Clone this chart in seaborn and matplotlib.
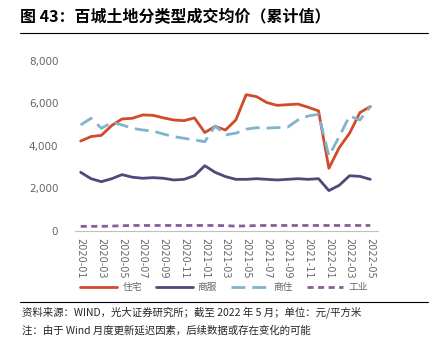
import matplotlib
matplotlib.use("Agg")
import matplotlib.pyplot as plt
import seaborn as sns
import pandas as pd
import numpy as np
from matplotlib.lines import Line2D

months = ["2020-01","2020-02","2020-03","2020-04","2020-05","2020-06","2020-07","2020-08",
          "2020-09","2020-10","2020-11","2020-12","2021-01","2021-02","2021-03","2021-04",
          "2021-05","2021-06","2021-07","2021-08","2021-09","2021-10","2021-11","2021-12",
          "2022-01","2022-02","2022-03","2022-04","2022-05"]
residential = [4230,4440,4500,4960,5270,5300,5460,5440,5320,5220,5190,5320,4630,4920,4750,5220,
               6410,6320,6040,5910,5940,5970,5820,5650,2950,3920,4600,5570,5850]
commercial = [2760,2460,2320,2460,2650,2530,2480,2510,2480,2400,2430,2600,3070,2760,2560,2430,
              2430,2460,2430,2400,2430,2460,2430,2460,1900,2150,2600,2570,2430]
comm_res = [4990,5300,4830,5100,4990,4830,4750,4700,4560,4440,4360,4280,4200,4940,4520,4600,
            4790,4860,4840,4860,4880,5220,5410,5490,3530,4440,5410,5220,5850]
industrial = [220,220,220,230,250,260,260,260,260,260,260,260,260,260,250,230,
              240,255,260,260,260,260,260,260,260,260,260,260,260]

series_names = ["住宅", "商服", "商住", "工业"]
colors = ["#d14b2a", "#4d4a7b", "#7fb4cb", "#8a5c9a"]

sns.set_theme(style="white")
plt.rcParams['font.family'] = ['Noto Sans CJK SC', 'DejaVu Sans']

df = pd.DataFrame({"month": months, "住宅": residential, "商服": commercial,
                   "商住": comm_res, "工业": industrial})
df["idx"] = np.arange(len(months))
long = df.melt(id_vars=["month", "idx"], value_vars=series_names, var_name="类型", value_name="价格")

fig = plt.figure(figsize=(4.36, 3.5), dpi=100)
ax = fig.add_axes([0.172, 0.34, 0.695, 0.486])

sns.lineplot(data=long, x="idx", y="价格", hue="类型", style="类型",
             hue_order=series_names, style_order=series_names,
             palette=colors, dashes={"住宅": "", "商服": "", "商住": (5, 2.5), "工业": (2.2, 1.6)},
             linewidth=2.0, ax=ax, legend=False)

ax.set_xlim(-0.55, 28.75)
ax.set_ylim(0, 8000)
ax.set_yticks([0, 2000, 4000, 6000, 8000])
ax.set_yticklabels(["0", "2,000", "4,000", "6,000", "8,000"], color="#666666", fontsize=7.5,
                   family=['DejaVu Sans'])
ticks = list(range(0, 29, 2))
ax.set_xticks(ticks)
ax.set_xticklabels([months[i] for i in ticks], rotation=-90, color="#666666", fontsize=7,
                   family=['DejaVu Sans'])
ax.set_xlabel("")
ax.set_ylabel("")
for s in ["top", "right", "left"]:
    ax.spines[s].set_visible(False)
ax.spines["bottom"].set_color("#bfbfbf")
ax.spines["bottom"].set_linewidth(0.8)
ax.tick_params(axis="x", length=3, color="#bfbfbf", width=0.8, pad=2)
ax.tick_params(axis="y", length=0, pad=12)
ax.grid(False)

# legend
handles = []
dash_map = {"住宅": "-", "商服": "-", "商住": (0, (5, 2.5)), "工业": (0, (2.2, 1.6))}
for n, c in zip(series_names, colors):
    handles.append(Line2D([0], [0], color=c, lw=2.0, linestyle=dash_map[n]))
fig.legend(handles, series_names, loc="center", bbox_to_anchor=(0.514, 0.18), ncol=4,
           frameon=False, fontsize=7, handlelength=3.8, columnspacing=1.45, handletextpad=0.5,
           labelcolor="#666666")

# title and rules
fig.text(0.046, 0.952, "图 43：百城土地分类型成交均价（累计值）", fontsize=11.5, fontweight="bold",
         va="center", ha="left", color="#000000")
fig.add_artist(Line2D([0.046, 0.982], [0.905, 0.905], color="black", lw=0.8, transform=fig.transFigure))
fig.add_artist(Line2D([0.046, 0.982], [0.138, 0.138], color="black", lw=0.8, transform=fig.transFigure))
fig.text(0.05, 0.107, "资料来源：WIND，光大证券研究所；截至 2022 年 5 月；单位：元/平方米", fontsize=7.5,
         va="center", ha="left")
fig.text(0.05, 0.057, "注：由于 Wind 月度更新延迟因素，后续数据或存在变化的可能", fontsize=7.5,
         va="center", ha="left")

fig.savefig("out.png", dpi=100)
